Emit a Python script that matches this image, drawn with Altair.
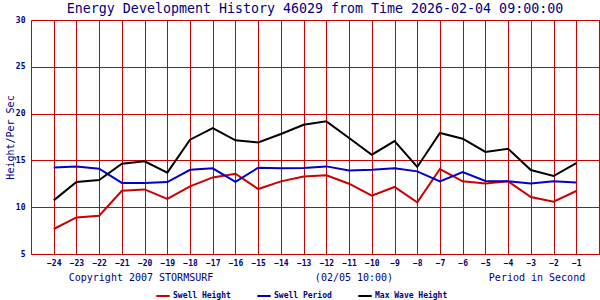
import altair as alt
import pandas as pd

hours = list(range(-24, 0))
swell_height = [7.67, 8.91, 9.09, 11.76, 11.9, 10.88, 12.22, 13.18, 13.58, 11.94, 12.76, 13.29,
                13.4, 12.51, 11.23, 12.16, 10.51, 14.08, 12.76, 12.54, 12.76, 11.09, 10.59, 11.73]
swell_period = [14.25, 14.36, 14.11, 12.59, 12.59, 12.69, 14.0, 14.15, 12.72, 14.22, 14.15, 14.19,
                14.36, 13.93, 14.0, 14.15, 13.83, 12.76, 13.76, 12.8, 12.76, 12.54, 12.76, 12.65]
max_wave = [10.73, 12.69, 12.9, 14.65, 14.9, 13.69, 17.21, 18.46, 17.14, 16.92, 17.82, 18.81,
            19.17, 17.39, 15.61, 17.07, 14.3, 17.93, 17.32, 15.9, 16.25, 13.97, 13.33, 14.72]
series_names = ["Swell Height", "Swell Period", "Max Wave Height"]
series_colors = ["#cc0000", "#0000cc", "#000000"]
y_ticks = [5, 10, 15, 20, 25, 30]

rows = []
for name, vals in zip(series_names, [swell_height, swell_period, max_wave]):
    for h, v in zip(hours, vals):
        rows.append({"hour": h, "value": v, "series": name})
df = pd.DataFrame(rows)

NAVY = "#000080"
FONT = "DejaVu Sans Mono"

lines = alt.Chart(df).mark_line(strokeWidth=2).encode(
    x=alt.X("hour:Q", scale=alt.Scale(domain=[-25, 0], nice=False),
            axis=alt.Axis(values=hours, title=None, grid=True, labelFontSize=8,
                          labelFont=FONT, labelFontWeight="bold", labelColor=NAVY,
                          labelPadding=5, domain=False, ticks=False, format="d")),
    y=alt.Y("value:Q", scale=alt.Scale(domain=[5, 30], nice=False),
            axis=alt.Axis(values=y_ticks, title="Height/Per Sec", grid=True, labelFontSize=8,
                          labelFont=FONT, labelFontWeight="bold", labelColor=NAVY,
                          labelPadding=6, domain=False, ticks=False,
                          titleFont=FONT, titleFontSize=10, titleFontWeight="normal",
                          titleColor=NAVY, titleX=-21, titleY=117,
                          titleBaseline="middle", titleAlign="center", titleAngle=270)),
    color=alt.Color("series:N",
                    scale=alt.Scale(domain=series_names, range=series_colors),
                    legend=alt.Legend(orient="none", legendX=124, legendY=268,
                                      direction="horizontal", title=None,
                                      symbolType="stroke", symbolStrokeWidth=2,
                                      symbolSize=180, labelFont=FONT, labelFontSize=8,
                                      labelFontWeight="bold", labelColor=NAVY,
                                      labelOffset=2, columnPadding=22, padding=0)),
    order=alt.Order("hour:Q"),
)

title_t = alt.Chart().mark_text(
    text="Energy Development History 46029 from Time 2026-02-04 09:00:00",
    font=FONT, fontSize=13.3, color=NAVY, align="center", baseline="alphabetic").encode(
    x=alt.value(284), y=alt.value(-7))
copyright_t = alt.Chart().mark_text(text="Copyright 2007 STORMSURF", font=FONT, fontSize=10,
                                    color=NAVY, align="center", baseline="alphabetic").encode(
    x=alt.value(110), y=alt.value(261))
date_t = alt.Chart().mark_text(text="(02/05 10:00)", font=FONT, fontSize=10,
                               color=NAVY, align="center", baseline="alphabetic").encode(
    x=alt.value(323), y=alt.value(261))
period_t = alt.Chart().mark_text(text="Period in Second", font=FONT, fontSize=10,
                                 color=NAVY, align="center", baseline="alphabetic").encode(
    x=alt.value(506), y=alt.value(261))

chart = alt.layer(lines, title_t, copyright_t, date_t, period_t).properties(
    width=568, height=234,
    autosize=alt.AutoSizeParams(type="none"),
    padding={"left": 31, "top": 20, "right": 1, "bottom": 46},
    background="white",
).configure_view(stroke="#cc0000", strokeWidth=1).configure_axis(
    gridColor="#cc0000", gridOpacity=1, gridWidth=1
)

chart.save("out.html", embed_options={"renderer": "svg", "actions": False})
